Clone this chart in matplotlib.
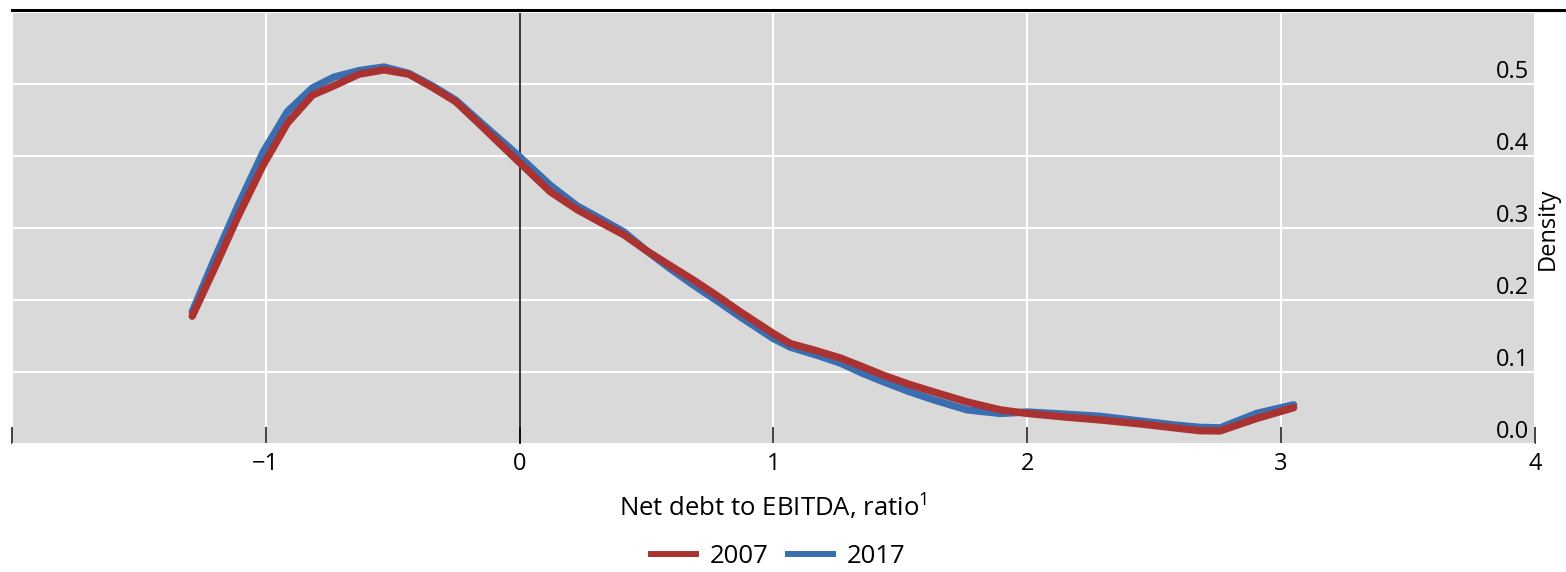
import matplotlib
matplotlib.use("Agg")
import matplotlib.pyplot as plt
from matplotlib.lines import Line2D

plt.rcParams['font.family'] = ['Open Sans', 'DejaVu Sans']
plt.rcParams['mathtext.default'] = 'regular'

# Data
x_vals = [-1.29, -1.20, -1.11, -1.01, -0.915, -0.816, -0.731, -0.633, -0.534, -0.436,
          -0.34, -0.252, -0.15, -0.05, 0.004, 0.12, 0.227, 0.32, 0.411, 0.50,
          0.59, 0.686, 0.78, 0.87, 1.0, 1.067, 1.17, 1.264, 1.35, 1.434,
          1.53, 1.631, 1.763, 1.894, 2.0, 2.15, 2.287, 2.458, 2.58, 2.68,
          2.76, 2.904, 3.05]
dens_2007 = [0.177, 0.245, 0.315, 0.387, 0.445, 0.484, 0.497, 0.513, 0.519, 0.513,
             0.494, 0.475, 0.441, 0.407, 0.389, 0.350, 0.325, 0.307, 0.290, 0.268,
             0.248, 0.227, 0.205, 0.183, 0.153, 0.139, 0.129, 0.119, 0.107, 0.095,
             0.083, 0.072, 0.058, 0.047, 0.042, 0.037, 0.033, 0.027, 0.022, 0.018,
             0.0177, 0.035, 0.050]
dens_2017 = [0.183, 0.258, 0.330, 0.405, 0.461, 0.494, 0.509, 0.518, 0.523, 0.514,
             0.496, 0.477, 0.445, 0.414, 0.397, 0.359, 0.330, 0.312, 0.294, 0.268,
             0.244, 0.220, 0.198, 0.176, 0.146, 0.134, 0.123, 0.112, 0.098, 0.086,
             0.073, 0.061, 0.047, 0.042, 0.044, 0.041, 0.038, 0.031, 0.026, 0.0227,
             0.022, 0.042, 0.054]
series_labels = ['2007', '2017']
x_ticks = [-2, -1, 0, 1, 2, 3, 4]
x_ticklabels = ['', '\u22121', '0', '1', '2', '3', '4']
y_ticks = [0.0, 0.1, 0.2, 0.3, 0.4, 0.5]
y_ticklabels = ['0.0', '0.1', '0.2', '0.3', '0.4', '0.5']

RED = '#aa3332'
BLUE = '#3a6eb0'

fig = plt.figure(figsize=(15.66, 5.72), dpi=100)
ax = fig.add_axes([0.00766, 0.2243, 0.9724, 0.753])
ax.set_facecolor('#d9d9d9')

ax.plot(x_vals, dens_2017, color=BLUE, lw=5.3, solid_capstyle='round', label=series_labels[1], zorder=3)
ax.plot(x_vals, dens_2007, color=RED, lw=5.3, solid_capstyle='round', label=series_labels[0], zorder=4)
ax.axvline(0, color='black', lw=1.1, zorder=2)

ax.set_xlim(-2, 4)
ax.set_ylim(0, 0.598)
ax.set_xticks(x_ticks)
ax.set_xticklabels(x_ticklabels)
ax.set_yticks(y_ticks)
ax.set_yticklabels(y_ticklabels)

ax.grid(True, color='white', lw=1.5, zorder=1)
ax.set_axisbelow(True)
for s in ax.spines.values():
    s.set_visible(False)

ax.tick_params(axis='x', direction='in', length=12, width=1.2, color='#222222',
               labelsize=17, pad=6, bottom=True, top=False)
ax.yaxis.tick_right()
ax.tick_params(axis='y', length=0, labelsize=17, pad=-4)
for lab in ax.get_yticklabels():
    lab.set_horizontalalignment('right')
    lab.set_verticalalignment('bottom')

ax.yaxis.set_label_position('right')
ax.set_ylabel('Density', fontsize=17, labelpad=1)
ax.set_xlabel('Net debt to EBITDA, ratio$^{1}$', fontsize=18.5, labelpad=12)

# top rule
fig.add_artist(Line2D([0.00766, 1.0], [0.9825, 0.9825], color='black', lw=2.2,
                      transform=fig.transFigure))

handles = [Line2D([], [], color=RED, lw=4.3), Line2D([], [], color=BLUE, lw=4.3)]
fig.legend(handles, series_labels, loc='lower center', bbox_to_anchor=(0.497, -0.036),
           ncol=2, frameon=False, fontsize=18.5, handlelength=1.75, handletextpad=0.55,
           columnspacing=0.75)

fig.savefig('out.png', dpi=100)
